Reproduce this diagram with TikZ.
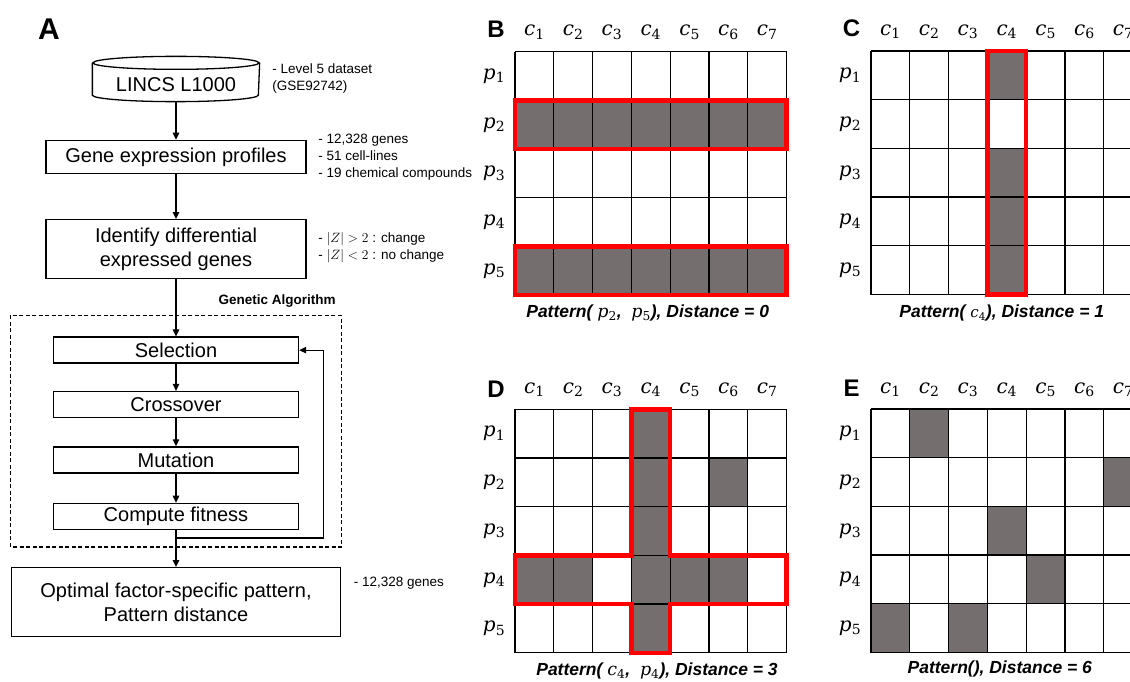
\documentclass[tikz,border=0pt]{standalone}
\usepackage{fix-cm}
\usepackage{fontspec}
\setmainfont{Liberation Sans}
\newfontfamily\labfont{DejaVu Serif}
\usepackage{tikz}
\usetikzlibrary{positioning, arrows.meta}
\definecolor{cellgray}{RGB}{116,110,110}
\newcommand{\lbl}[2]{{\labfont\mdseries\itshape #1}\textsubscript{\labfont\mdseries\upshape #2}}
\tikzset{
    >={Triangle[length=7pt, width=6.5pt]}, % filled arrow heads
    box/.style={draw, line width=1.4pt, minimum width=260pt, align=center, font=\fontsize{20}{24}\selectfont}, % flow chart boxes
    gastep/.style={draw, line width=1.4pt, minimum width=245pt, minimum height=26pt, font=\fontsize{20}{24}\selectfont}, % boxes inside the GA loop
    note/.style={inner sep=0pt, align=left, font=\fontsize{13.5}{17}\selectfont}, % side notes
    panel/.style={font=\fontsize{24}{24}\selectfont\bfseries}, % panel letters
    lab/.style={font=\fontsize{20}{20}\selectfont}, % c_i and p_j labels
    capt/.style={font=\fontsize{17.5}{20}\selectfont\bfseries\itshape}, % text under the grids
    gridline/.style={line width=1.3pt},
    redline/.style={draw=red, line width=4.5pt, line join=miter},
    }

\begin{document}
\begin{tikzpicture}[x=1pt, y=-1pt, line width=1.3pt]
\useasboundingbox (0,0) rectangle (1130,682);
\clip (0,0) rectangle (1130,682);

% panel A
\node[panel, font=\fontsize{30}{30}\selectfont\bfseries] (A) at (49,29) {A};
\node[minimum width=166pt, minimum height=44pt, text height=24.4pt, text depth=0pt, font=\fontsize{20}{24}\selectfont] (lincs) at (176,79) {LINCS L1000};
\draw ([yshift=-6.5pt]lincs.north west) -- ([yshift=6.5pt]lincs.south west)
    arc[start angle=180, end angle=360, x radius=83pt, y radius=6.5pt] -- ([yshift=-6.5pt]lincs.north east);
\draw ([yshift=-6.5pt]lincs.north) ellipse [x radius=83pt, y radius=6.5pt];
\node[box, minimum height=33pt, below=38pt of lincs] (gep) {Gene expression profiles};
\node[box, minimum height=59pt, below=45pt of gep] (ide) {Identify differential\\expressed genes};
\node[gastep, below=57pt of ide] (sel) {Selection};
\node[gastep, below=27pt of sel] (cro) {Crossover};
\node[gastep, below=28pt of cro] (mut) {Mutation};
\node[gastep, below=29pt of mut] (cfit) {Compute fitness};
\node[box, minimum width=329pt, minimum height=69pt, below=37pt of cfit] (opt) {Optimal factor-specific pattern,\\Pattern distance};

\node[note, right=12pt of lincs] (n1) {- Level 5 dataset\\(GSE92742)};
\node[note, right=11pt of gep] (n2) {- 12,328 genes\\- 51 cell-lines\\- 19 chemical compounds};
\node[note, right=11pt of ide, yshift=2pt] (n3) {- $|Z| > 2$ : change\\- $|Z| < 2$ : no change};
\node[note, anchor=west] (n4) at ([xshift=12pt, yshift=-16pt]opt.north east) {- 12,328 genes};

\coordinate (ganw) at ([shift={(-42pt,21pt)}]sel.north west);
\coordinate (gase) at ([shift={(42pt,-17pt)}]cfit.south east);
\draw[line width=1.2pt, dash pattern=on 4pt off 2.5pt] (ganw) rectangle (gase);
\node[note, font=\fontsize{13.5}{17}\selectfont\bfseries, anchor=south east] (galab) at ([xshift=-5pt, yshift=7pt]gase |- ganw) {Genetic Algorithm};

\draw (lincs) edge[->] (gep)
(gep) edge[->] (ide)
(ide) edge[->] (sel)
(sel) edge[->] (cro)
(cro) edge[->] (mut)
(mut) edge[->] (cfit)
(cfit) edge[->] (opt);
\draw[->] (cfit.south) -- ++(0pt,-8pt) -| ([xshift=24pt]sel.east) -- (sel.east);

% panel B
\begin{scope}[shift={(515,51.7)}, x=38.8pt, y=-48.7pt]
\fill[cellgray] (0,1) rectangle (7,2) (0,4) rectangle (7,5);
\foreach \i in {0,...,7} \draw[gridline] (\i,0) -- (\i,5);
\foreach \j in {0,...,5} \draw[gridline] (0,\j) -- (7,\j);
\draw[redline] (0,1) rectangle (7,2) (0,4) rectangle (7,5);
\node[panel] (B) at (-0.49,-0.46) {B};
\foreach \i in {1,...,7} \node[lab] (Bc\i) at (\i-0.5,-0.4) {\lbl{c}{\i}};
\foreach \j in {1,...,5} \node[lab] (Bp\j) at (-0.54,\j-0.5) {\lbl{p}{\j}};
\node[capt] (Bcap) at (3.42,5.37) {Pattern( \lbl{p}{2}, \ \lbl{p}{5}), Distance = 0};
\end{scope}

% panel C
\begin{scope}[shift={(871,51)}, x=38.8pt, y=-48.7pt]
\fill[cellgray] (3,0) rectangle (4,1) (3,2) rectangle (4,5);
\foreach \i in {0,...,7} \draw[gridline] (\i,0) -- (\i,5);
\foreach \j in {0,...,5} \draw[gridline] (0,\j) -- (7,\j);
\draw[redline] (3,0) rectangle (4,5);
\node[panel] (C) at (-0.5,-0.46) {C};
\foreach \i in {1,...,7} \node[lab] (Cc\i) at (\i-0.5,-0.4) {\lbl{c}{\i}};
\foreach \j in {1,...,5} \node[lab] (Cp\j) at (-0.54,\j-0.5) {\lbl{p}{\j}};
\node[capt] (Ccap) at (3.37,5.38) {Pattern( {\fontsize{15}{15}\selectfont\lbl{c}{4}}), Distance = 1};
\end{scope}

% panel D
\begin{scope}[shift={(515,409.3)}, x=38.8pt, y=-48.7pt]
\fill[cellgray] (3,0) rectangle (4,5) (0,3) rectangle (2,4) (4,3) rectangle (6,4) (5,1) rectangle (6,2);
\foreach \i in {0,...,7} \draw[gridline] (\i,0) -- (\i,5);
\foreach \j in {0,...,5} \draw[gridline] (0,\j) -- (7,\j);
\draw[redline] (3,0) -- (4,0) -- (4,3) -- (7,3) -- (7,4) -- (4,4) -- (4,5) -- (3,5) -- (3,4) -- (0,4) -- (0,3) -- (3,3) -- cycle;
\node[panel] (D) at (-0.49,-0.42) {D};
\foreach \i in {1,...,7} \node[lab] (Dc\i) at (\i-0.5,-0.4) {\lbl{c}{\i}};
\foreach \j in {1,...,5} \node[lab] (Dp\j) at (-0.54,\j-0.5) {\lbl{p}{\j}};
\node[capt] (Dcap) at (3.66,5.38) {Pattern( \lbl{c}{4}, \ \lbl{p}{4}), Distance = 3};
\end{scope}

% panel E
\begin{scope}[shift={(871,409)}, x=38.8pt, y=-48.7pt]
\fill[cellgray] (1,0) rectangle (2,1) (6,1) rectangle (7,2) (3,2) rectangle (4,3) (4,3) rectangle (5,4) (0,4) rectangle (1,5) (2,4) rectangle (3,5);
\foreach \i in {0,...,7} \draw[gridline] (\i,0) -- (\i,5);
\foreach \j in {0,...,5} \draw[gridline] (0,\j) -- (7,\j);
\node[panel] (E) at (-0.5,-0.42) {E};
\foreach \i in {1,...,7} \node[lab] (Ec\i) at (\i-0.5,-0.4) {\lbl{c}{\i}};
\foreach \j in {1,...,5} \node[lab] (Ep\j) at (-0.54,\j-0.5) {\lbl{p}{\j}};
\node[capt] (Ecap) at (3.32,5.33) {Pattern(), Distance = 6};
\end{scope}
\end{tikzpicture}
\end{document}
